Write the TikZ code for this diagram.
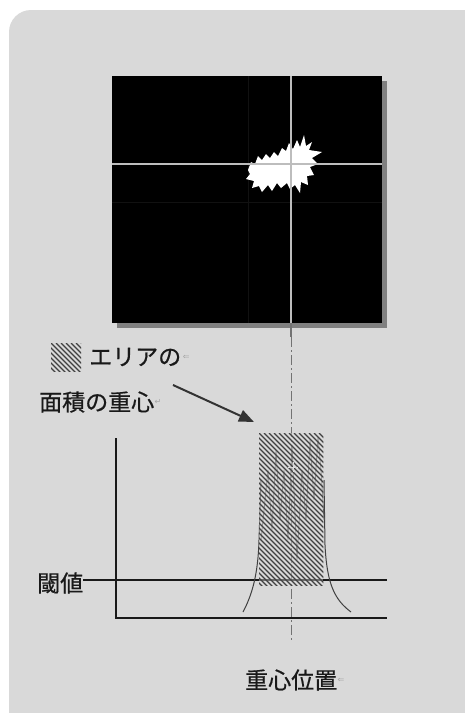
\documentclass[tikz,border=0pt]{standalone}
\usepackage{fontspec}
\newfontfamily\jp[FakeBold=0.6]{Noto Sans CJK JP}
\newfontfamily\sym{DejaVu Sans}
\usetikzlibrary{arrows.meta}
\definecolor{panel}{HTML}{D9D9D9}
\definecolor{shadowc}{HTML}{808080}
\definecolor{crossc}{HTML}{BDBDBD}
\definecolor{hatchc}{HTML}{404040}
\tikzset{
  lbl/.style={font=\jp\fontsize{23}{26}\selectfont, text=black!90, inner sep=0pt, anchor=west},
  fmtmark/.style={font=\sym\fontsize{8}{9}\selectfont, text=black!35, inner sep=0pt, anchor=west},
  axis/.style={line width=2pt, black!90},
  hatchline/.style={line width=1.1pt, hatchc},
}
\begin{document}
\begin{tikzpicture}[x=1pt,y=-1pt]
\useasboundingbox (0,0) rectangle (464,713);
% panel
\fill[panel, rounded corners=22pt] (9,10) rectangle (490,740);
% image with shadow
\fill[shadowc] (117,81) rectangle (387,328);
\node[fill=black, minimum width=270pt, minimum height=247pt, inner sep=0pt, anchor=north west] (img) at (112,76) {};
\draw[black!80!white, line width=0.8pt, opacity=0.35] (248,76) -- (248,323) (112,202) -- (382,202);
% blob
\fill[white] (248,170)--(251,162)--(255,164)--(258,156)--(262,160)--(266,154)--(270,158)--(274,152)--(278,156)--(282,148)--(286,151)--(289,143)--(293,149)--(297,140)--(300,147)--(304,135)--(306,146)--(312,142)--(309,150)--(322,152)--(312,158)--(318,164)--(310,167)--(314,175)--(307,176)--(308,185)--(301,182)--(300,193)--(295,185)--(290,189)--(287,183)--(281,188)--(277,183)--(272,191)--(268,185)--(262,192)--(259,186)--(252,188)--(254,181)--(246,179)--(250,174)--cycle;
% crosshair
\coordinate (cxtop) at (291,76);
\coordinate (cxbot) at (291,337);
\draw[crossc, line width=1.5pt] (112,164) -- (382,164);
\draw[crossc, line width=1.5pt] (cxtop) -- (291,323);
\draw[black!55, line width=1.2pt] (291,323) -- (cxbot);
% dash-dot centre line
\coordinate (cbot) at (291,640);
\draw[black!55, line width=0.9pt, dash pattern=on 10pt off 3pt on 2pt off 3pt] (cxbot) -- (cbot);
% legend hatch square
\begin{scope}
\clip (51,343) rectangle (81,371);
\foreach \i in {-40,-35,...,40} \draw[hatchline] (51+\i,343) -- ++(40,40);
\end{scope}
\node[lbl] (t1) at (89,357) {エリアの};
\node[fmtmark] at (t1.east) {\,⇐};
\node[lbl] (t2) at (39,402) {面積の重心};
\node[fmtmark] at (t2.east) {↵};
% axes
\coordinate (ytop) at (116,438);
\coordinate (origin) at (116,618);
\coordinate (xend) at (387,618);
\draw[axis] (ytop) -- (origin) -- (xend);
% threshold
\node[lbl] (th) at (37,583) {閾値};
\coordinate (thend) at (387,580);
\draw[black!90, line width=1.4pt] (th.east |- thend) -- (thend);
% peak signal
\draw[black!75, line width=1pt] (243,612) .. controls (252,595) and (258,575) .. (259,540) -- (261,480);
\draw[black!75, line width=1pt] (351,612) .. controls (335,600) and (327,585) .. (325,545) -- (324,480);
\draw[black!60, line width=0.8pt] (261,540) -- (265,500) -- (268,470) -- (272,530) -- (276,450) -- (280,520) -- (284,470) -- (288,540) -- (292,445) -- (297,560) -- (302,470) -- (306,520) -- (310,440) -- (314,500) -- (318,437) -- (321,470) -- (324,520);
% hatched area
\node[minimum width=64pt, minimum height=152pt, inner sep=0pt, anchor=north west] (area) at (259,433) {};
\begin{scope}
\clip (area.north west) rectangle (area.south east);
\fill[panel, opacity=0.45] (area.north west) rectangle (area.south east);
\foreach \i in {-160,-155,...,70} \draw[hatchline] (259+\i,433) -- ++(160,160);
\end{scope}
\draw[white!85!black, line width=1pt] (288,467) -- (298,467) (293,462) -- (293,472);
% arrow
\coordinate (astart) at (173,385);
\draw[black!80, line width=2pt, -{Triangle[length=15pt,width=12pt]}] (astart) -- (254,422);
% bottom label
\node[lbl] (cog) at (245,680) {重心位置};
\node[fmtmark] at (cog.east) {⇐};
\end{tikzpicture}
\end{document}
